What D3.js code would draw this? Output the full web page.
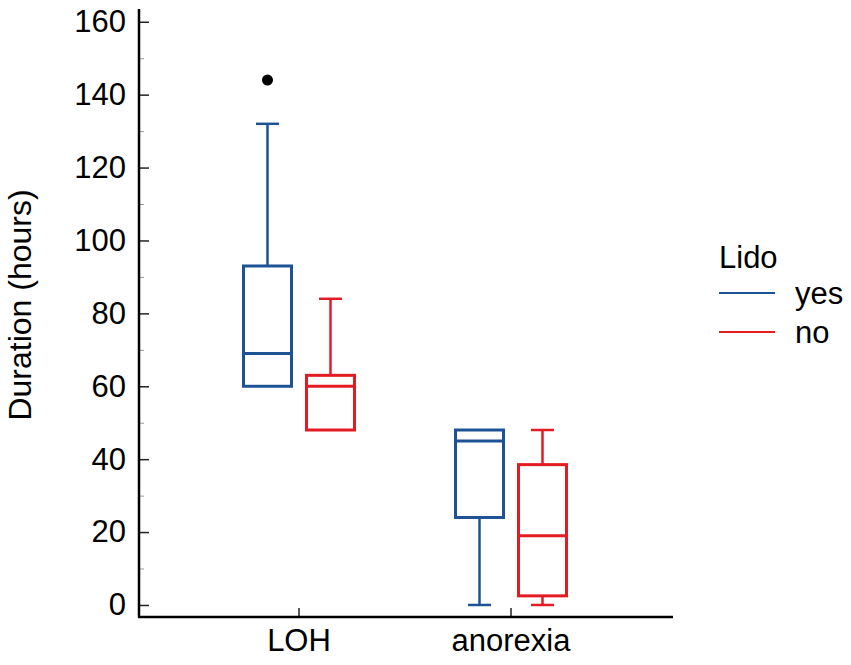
<!DOCTYPE html>
<html>
<head>
<meta charset="utf-8">
<style>
	body { margin: 0; background: #fff; }
	svg text { font-family: "Liberation Sans", Arial, sans-serif; fill: #000; }
</style>
</head>
<body>
<svg id="chart" width="851" height="665"></svg>
<script src="https://d3js.org/d3.v7.min.js"></script>
<script>

// data
var categories = ["LOH", "anorexia"];
var groups = ["yes", "no"];

var yesLow    = [60, 0];
var yesQ1     = [60, 24];
var yesMedian = [69, 45];
var yesQ3     = [93, 48];
var yesHigh   = [132, 48];

var noLow    = [48, 0];
var noQ1     = [48, 2.5];
var noMedian = [60, 19];
var noQ3     = [63, 38.5];
var noHigh   = [84, 48];

var outlierCat   = ["LOH"];
var outlierGroup = ["yes"];
var outlierValue = [144];

var yTicks = [0, 20, 40, 60, 80, 100, 120, 140, 160];
var yMinorTicks = [10, 30, 50, 70, 90, 110, 130, 150];

var colors = { yes: "#1d5295", no: "#e31b23" };

// build box table from the arrays
var stats = { yes: [yesLow, yesQ1, yesMedian, yesQ3, yesHigh], no: [noLow, noQ1, noMedian, noQ3, noHigh] };
var boxes = [];
categories.forEach(function(c, i) {
	groups.forEach(function(g) {
		var s = stats[g];
		boxes.push({ cat: c, group: g, low: s[0][i], q1: s[1][i], median: s[2][i], q3: s[3][i], high: s[4][i] });
	});
});

var svg = d3.select("#chart");

var plotLeft = 139, plotRight = 673, plotTop = 9, plotBottom = 617;
var boxWidth = 48, capWidth = 23;

var y = d3.scaleLinear()
	.domain([-3.3, 163.5])
	.range([plotBottom, plotTop]);

var x = d3.scaleBand()
	.domain(categories)
	.range([193, 617]);

var xGroup = d3.scalePoint()
	.domain(groups)
	.range([x.bandwidth() / 2 - 31.5, x.bandwidth() / 2 + 31.5]);

function cx(d) { return x(d.cat) + xGroup(d.group); }

// y axis
var yAxis = svg.append("g")
	.attr("transform", "translate(" + plotLeft + ",0)")
	.call(d3.axisLeft(y).tickValues(yTicks).tickSizeInner(-10).tickSizeOuter(0).tickPadding(13));
yAxis.select(".domain").remove();
yAxis.selectAll(".tick line").attr("stroke", "#222").attr("stroke-width", 1.5);
yAxis.selectAll("text").style("font-size", "31px").attr("fill", "#000");

var yMinor = svg.append("g")
	.attr("transform", "translate(" + plotLeft + ",0)")
	.call(d3.axisLeft(y).tickValues(yMinorTicks).tickSizeInner(-5).tickSizeOuter(0).tickFormat(""));
yMinor.select(".domain").remove();
yMinor.selectAll(".tick line").attr("stroke", "#999").attr("stroke-width", 1);

// x axis
var xAxis = svg.append("g")
	.attr("transform", "translate(0," + plotBottom + ")")
	.call(d3.axisBottom(x).tickSizeInner(-9).tickSizeOuter(0).tickPadding(12));
xAxis.select(".domain").remove();
xAxis.selectAll(".tick line").attr("stroke", "#222").attr("stroke-width", 1.5);
xAxis.selectAll("text").style("font-size", "31px").attr("fill", "#000");

// axis lines
svg.append("line")
	.attr("x1", plotLeft).attr("x2", plotLeft)
	.attr("y1", plotTop).attr("y2", plotBottom)
	.attr("stroke", "#000").attr("stroke-width", 2.5);
svg.append("line")
	.attr("x1", plotLeft - 1).attr("x2", plotRight)
	.attr("y1", plotBottom).attr("y2", plotBottom)
	.attr("stroke", "#000").attr("stroke-width", 2.5);

// y label
svg.append("text")
	.attr("transform", "translate(31,305) rotate(-90)")
	.attr("text-anchor", "middle")
	.style("font-size", "32px")
	.text("Duration (hours)");

// boxes
var box = svg.selectAll(".box")
	.data(boxes)
	.enter().append("g")
	.attr("class", "box")
	.attr("stroke", function(d) { return colors[d.group]; })
	.attr("fill", "none");

box.append("line")
	.attr("x1", cx).attr("x2", cx)
	.attr("y1", function(d) { return y(d.q3); })
	.attr("y2", function(d) { return y(d.high); })
	.attr("stroke-width", 2.5);
box.append("line")
	.attr("x1", cx).attr("x2", cx)
	.attr("y1", function(d) { return y(d.q1); })
	.attr("y2", function(d) { return y(d.low); })
	.attr("stroke-width", 2.5);
box.filter(function(d) { return d.high > d.q3; }).append("line")
	.attr("x1", function(d) { return cx(d) - capWidth / 2; })
	.attr("x2", function(d) { return cx(d) + capWidth / 2; })
	.attr("y1", function(d) { return y(d.high); })
	.attr("y2", function(d) { return y(d.high); })
	.attr("stroke-width", 2.5);
box.filter(function(d) { return d.low < d.q1; }).append("line")
	.attr("x1", function(d) { return cx(d) - capWidth / 2; })
	.attr("x2", function(d) { return cx(d) + capWidth / 2; })
	.attr("y1", function(d) { return y(d.low); })
	.attr("y2", function(d) { return y(d.low); })
	.attr("stroke-width", 2.5);
box.append("rect")
	.attr("x", function(d) { return cx(d) - boxWidth / 2; })
	.attr("width", boxWidth)
	.attr("y", function(d) { return y(d.q3); })
	.attr("height", function(d) { return y(d.q1) - y(d.q3); })
	.attr("stroke-width", 3);
box.append("line")
	.attr("x1", function(d) { return cx(d) - boxWidth / 2; })
	.attr("x2", function(d) { return cx(d) + boxWidth / 2; })
	.attr("y1", function(d) { return y(d.median); })
	.attr("y2", function(d) { return y(d.median); })
	.attr("stroke-width", 3);

// outliers
svg.selectAll(".outlier")
	.data(outlierValue)
	.enter().append("circle")
	.attr("class", "outlier")
	.attr("cx", function(v, i) { return x(outlierCat[i]) + xGroup(outlierGroup[i]); })
	.attr("cy", function(v) { return y(v); })
	.attr("r", 5.5)
	.attr("fill", "#000");

// legend
var legend = svg.append("g").attr("transform", "translate(719,268)");
legend.append("text").attr("x", 0).attr("y", 0).style("font-size", "31px").text("Lido");
var item = legend.selectAll(".item")
	.data(groups)
	.enter().append("g")
	.attr("class", "item")
	.attr("transform", function(d, i) { return "translate(0," + (36 + i * 39) + ")"; });
item.append("line")
	.attr("x1", 0).attr("x2", 56)
	.attr("y1", -11).attr("y2", -11)
	.attr("stroke", function(d) { return colors[d]; })
	.attr("stroke-width", 2);
item.append("text")
	.attr("x", 76).attr("y", 0)
	.style("font-size", "31px")
	.text(function(d) { return d; });

</script>
</body>
</html>
